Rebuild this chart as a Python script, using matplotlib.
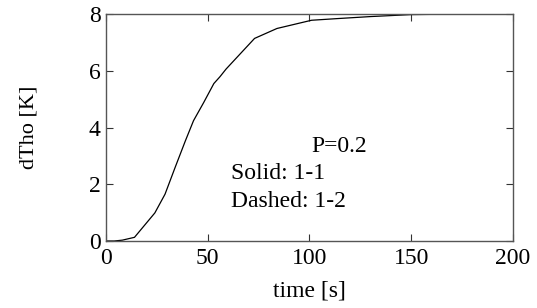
import matplotlib.pyplot as plt

# valeurs (Solid: 1-1)
time_s = [0, 4, 8, 14, 24, 29, 34, 39, 43, 48, 53, 56, 59, 73, 84, 101, 114, 130, 150, 175, 200]
dtho_k = [0, 0, 0.03, 0.13, 0.99, 1.65, 2.6, 3.53, 4.24, 4.88, 5.55, 5.79, 6.06, 7.14, 7.49,
          7.78, 7.84, 7.91, 7.98, 8.0, 8.0]

xticks = [0, 50, 100, 150, 200]
yticks = [0, 2, 4, 6, 8]

plt.rcParams['font.family'] = ['Liberation Serif', 'DejaVu Serif']

fig = plt.figure(figsize=(5.37, 3.08), dpi=100)
ax = fig.add_axes([0.1974, 0.2175, 0.7579, 0.737])

ax.plot(time_s, dtho_k, color='black', linewidth=0.9)

ax.set_xlim(0, 200)
ax.set_ylim(0, 8)
ax.set_xticks(xticks)
ax.set_yticks(yticks)
ax.tick_params(direction='in', top=True, right=True, length=5, labelsize=17,
               color='#333333')
ax.tick_params(axis='x', pad=5)
ax.tick_params(axis='y', pad=4)
for s in ax.spines.values():
    s.set_color('#555555')
    s.set_linewidth(1)

ax.set_xlabel('time [s]', fontsize=17)
ax.set_ylabel('dTho [K]', fontsize=16)
ax.xaxis.set_label_coords(0.5, -0.175)
ax.yaxis.set_label_coords(-0.165, 0.5)

ax.text(101, 3.15, 'P=0.2', fontsize=17, va='baseline')
ax.text(61.5, 2.17, 'Solid: 1-1', fontsize=17, va='baseline')
ax.text(61.5, 1.2, 'Dashed: 1-2', fontsize=17, va='baseline')

fig.savefig('out.png', dpi=100)
